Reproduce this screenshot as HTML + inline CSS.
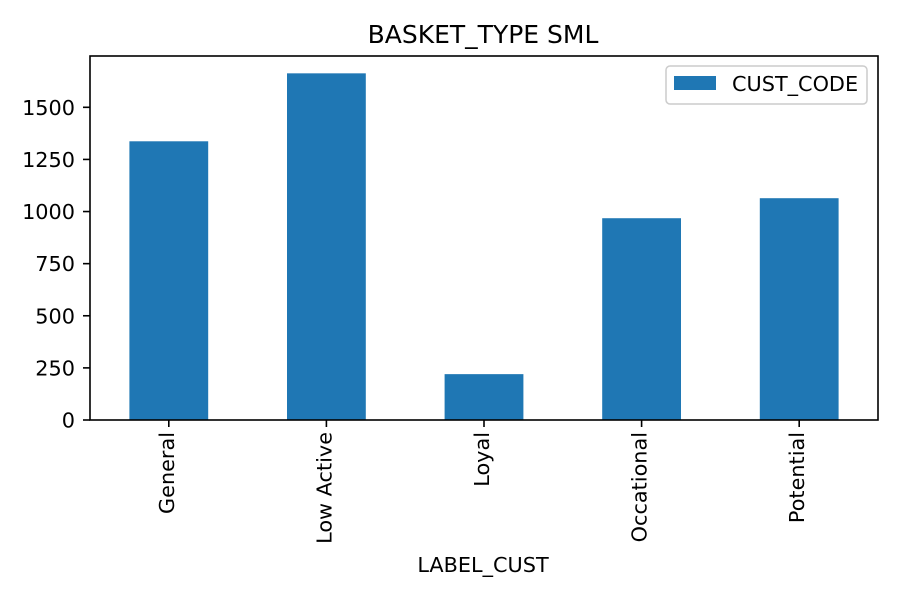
<!DOCTYPE html>
<html><head><meta charset="utf-8"><style>
body{margin:0;background:#fff;}
svg{display:block;font-family:"DejaVu Sans","Liberation Sans",sans-serif;}
</style></head><body>
<svg id="chart" width="900" height="600">
<rect width="900" height="600" fill="#fff"/>
<text x="483" y="43" text-anchor="middle" font-size="25">BASKET_TYPE SML</text>
<g id="bars"></g>
<g id="yticks"></g>
<g id="xticks"></g>
<rect x="90" y="56" width="788" height="364" fill="none" stroke="#000" stroke-width="1.6"/>
<text x="483" y="572" text-anchor="middle" font-size="20.8">LABEL_CUST</text>
<g>
<rect x="666" y="66" width="201" height="38" rx="4" fill="#fff" stroke="#ccc" stroke-width="1.5"/>
<rect x="674" y="76" width="42" height="14" fill="#1f77b4"/>
<text x="732" y="91" font-size="20.8">CUST_CODE</text>
</g>
</svg>
<script>
const categories=["General","Low Active","Loyal","Occational","Potential"];
const values=[1337,1663,220,968,1064];
const yTicks=[0,250,500,750,1000,1250,1500];
const L=90,R=878,T=56,B=420;
const yMax=Math.max(...values)*1.05;
const y=v=>B-v/yMax*(B-T);
const step=(R-L)/categories.length;
const x=i=>L+step*(i+0.5);
const NS="http://www.w3.org/2000/svg";
const bars=document.getElementById('bars'),yt=document.getElementById('yticks'),xt=document.getElementById('xticks');
values.forEach((v,i)=>{
 const r=document.createElementNS(NS,'rect');
 r.setAttribute('x',x(i)-step/4);r.setAttribute('width',step/2);
 r.setAttribute('y',y(v));r.setAttribute('height',B-y(v));r.setAttribute('fill','#1f77b4');
 
 
 bars.appendChild(r);
 const l=document.createElementNS(NS,'line');
 l.setAttribute('x1',x(i));l.setAttribute('x2',x(i));l.setAttribute('y1',B);l.setAttribute('y2',B+7);l.setAttribute('stroke','#000');l.setAttribute('stroke-width','1.6');
 xt.appendChild(l);
 const t=document.createElementNS(NS,'text');
 t.setAttribute('transform',`translate(${x(i)+5},${B+12}) rotate(-90)`);
 t.setAttribute('text-anchor','end');t.setAttribute('font-size','20.8');t.textContent=categories[i];
 
 
 xt.appendChild(t);
});
yTicks.forEach(v=>{
 const l=document.createElementNS(NS,'line');
 l.setAttribute('x1',L-7);l.setAttribute('x2',L);l.setAttribute('y1',y(v));l.setAttribute('y2',y(v));l.setAttribute('stroke','#000');l.setAttribute('stroke-width','1.6');
 yt.appendChild(l);
 const t=document.createElementNS(NS,'text');
 t.setAttribute('x',L-15);t.setAttribute('y',y(v)+7.5);t.setAttribute('text-anchor','end');t.setAttribute('font-size','20.8');t.textContent=v;
 
 
 yt.appendChild(t);
});
</script>
</body></html>
